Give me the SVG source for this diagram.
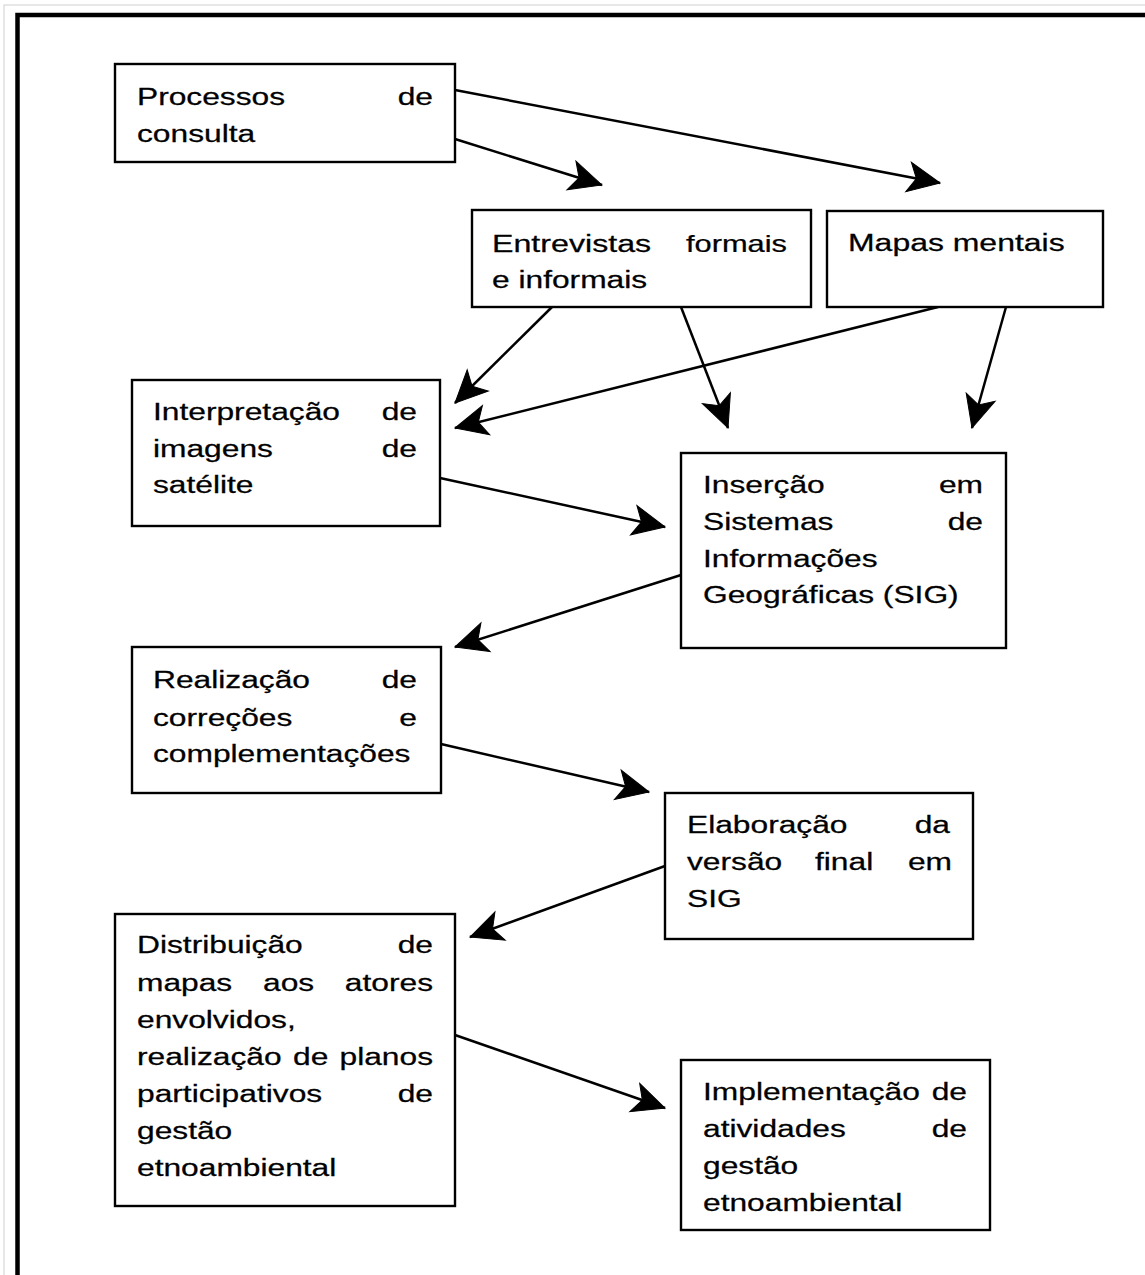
<svg xmlns="http://www.w3.org/2000/svg" width="1145" height="1275" viewBox="0 0 1145 1275">
  <style>
    .box { fill: #ffffff; stroke: #000000; stroke-width: 2.4; }
    .conn line { stroke: #000000; stroke-width: 2.5; marker-end: url(#head); }
    text { font-family: "Liberation Sans", Arial, sans-serif; font-size: 23px; fill: #000000; stroke: #000000; stroke-width: 0.25; }
    .r { text-anchor: end; }
  </style>
  <defs>
    <!-- swept-back arrowhead, tip at the line end -->
    <marker id="head" viewBox="-34 -17 36 34" refX="0" refY="0" markerWidth="36" markerHeight="34" markerUnits="userSpaceOnUse" orient="auto">
      <path d="M0,0 L-32,-15 L-24,0 L-32,15 Z" fill="#000000" stroke="#000000" stroke-width="1" stroke-linejoin="miter"/>
    </marker>
  </defs>

  <rect x="0" y="0" width="1145" height="1275" fill="#ffffff"/>
  <!-- outer frame (runs past the right and bottom edges) -->
  <rect x="4" y="5" width="1160" height="1290" fill="none" stroke="#cfcfcf" stroke-width="1"/>
  <rect x="17.5" y="15" width="1150" height="1280" fill="none" stroke="#000000" stroke-width="4.5"/>

  <g id="connectors" class="conn">
    <line x1="455" y1="90" x2="940" y2="183"/>
    <line x1="455" y1="139" x2="602" y2="185"/>
    <line x1="552" y1="307" x2="455" y2="403"/>
    <line x1="938" y1="307" x2="455" y2="428"/>
    <line x1="681" y1="307" x2="728" y2="428"/>
    <line x1="1006" y1="307" x2="972" y2="428"/>
    <line x1="440" y1="478" x2="665" y2="527"/>
    <line x1="681" y1="575" x2="455" y2="647"/>
    <line x1="441" y1="744" x2="649" y2="792"/>
    <line x1="665" y1="866" x2="470" y2="937"/>
    <line x1="455" y1="1035" x2="665" y2="1108"/>
  </g>

  <g id="processos">
    <rect class="box" x="115" y="64" width="340" height="98"/>
    <text transform="translate(137 105) scale(1.38 1)">Processos</text>
    <text class="r" transform="translate(433 105) scale(1.38 1)">de</text>
    <text transform="translate(137 142) scale(1.38 1)">consulta</text>
  </g>

  <g id="entrevistas">
    <rect class="box" x="472" y="210" width="339" height="97"/>
    <text transform="translate(492 252) scale(1.4 1)">Entrevistas</text>
    <text class="r" transform="translate(787 252) scale(1.34 1)">formais</text>
    <text transform="translate(492 288) scale(1.38 1)">e informais</text>
  </g>

  <g id="mapas">
    <rect class="box" x="827" y="211" width="276" height="96"/>
    <text transform="translate(848 251) scale(1.39 1)">Mapas mentais</text>
  </g>

  <g id="interpretacao">
    <rect class="box" x="132" y="380" width="308" height="146"/>
    <text transform="translate(153 420) scale(1.38 1)">Interpretação</text>
    <text class="r" transform="translate(417 420) scale(1.38 1)">de</text>
    <text transform="translate(153 457) scale(1.38 1)">imagens</text>
    <text class="r" transform="translate(417 457) scale(1.38 1)">de</text>
    <text transform="translate(153 493) scale(1.38 1)">satélite</text>
  </g>

  <g id="insercao-sig">
    <rect class="box" x="681" y="453" width="325" height="195"/>
    <text transform="translate(703 493) scale(1.38 1)">Inserção</text>
    <text class="r" transform="translate(983 493) scale(1.38 1)">em</text>
    <text transform="translate(703 530) scale(1.38 1)">Sistemas</text>
    <text class="r" transform="translate(983 530) scale(1.38 1)">de</text>
    <text transform="translate(703 567) scale(1.38 1)">Informações</text>
    <text transform="translate(703 603) scale(1.38 1)">Geográficas (SIG)</text>
  </g>

  <g id="realizacao">
    <rect class="box" x="132" y="647" width="309" height="146"/>
    <text transform="translate(153 688) scale(1.38 1)">Realização</text>
    <text class="r" transform="translate(417 688) scale(1.38 1)">de</text>
    <text transform="translate(153 726) scale(1.38 1)">correções</text>
    <text class="r" transform="translate(417 726) scale(1.38 1)">e</text>
    <text transform="translate(153 762) scale(1.38 1)">complementações</text>
  </g>

  <g id="elaboracao">
    <rect class="box" x="665" y="793" width="308" height="146"/>
    <text transform="translate(687 833) scale(1.38 1)">Elaboração</text>
    <text class="r" transform="translate(950 833) scale(1.38 1)">da</text>
    <text transform="translate(687 870) scale(1.38 1)">versão</text>
    <text transform="translate(815 870) scale(1.38 1)">final</text>
    <text class="r" transform="translate(952 870) scale(1.38 1)">em</text>
    <text transform="translate(687 907) scale(1.38 1)">SIG</text>
  </g>

  <g id="distribuicao">
    <rect class="box" x="115" y="914" width="340" height="292"/>
    <text transform="translate(137 953) scale(1.38 1)">Distribuição</text>
    <text class="r" transform="translate(433 953) scale(1.38 1)">de</text>
    <text transform="translate(137 991) scale(1.38 1)">mapas</text>
    <text transform="translate(263 991) scale(1.38 1)">aos</text>
    <text class="r" transform="translate(433 991) scale(1.38 1)">atores</text>
    <text transform="translate(137 1028) scale(1.38 1)">envolvidos,</text>
    <text transform="translate(137 1065) scale(1.38 1)">realização</text>
    <text transform="translate(293 1065) scale(1.38 1)">de</text>
    <text class="r" transform="translate(433 1065) scale(1.38 1)">planos</text>
    <text transform="translate(137 1102) scale(1.38 1)">participativos</text>
    <text class="r" transform="translate(433 1102) scale(1.38 1)">de</text>
    <text transform="translate(137 1139) scale(1.38 1)">gestão</text>
    <text transform="translate(137 1176) scale(1.38 1)">etnoambiental</text>
  </g>

  <g id="implementacao">
    <rect class="box" x="681" y="1060" width="309" height="170"/>
    <text transform="translate(703 1100) scale(1.38 1)">Implementação</text>
    <text class="r" transform="translate(967 1100) scale(1.38 1)">de</text>
    <text transform="translate(703 1137) scale(1.38 1)">atividades</text>
    <text class="r" transform="translate(967 1137) scale(1.38 1)">de</text>
    <text transform="translate(703 1174) scale(1.38 1)">gestão</text>
    <text transform="translate(703 1211) scale(1.38 1)">etnoambiental</text>
  </g>
</svg>
